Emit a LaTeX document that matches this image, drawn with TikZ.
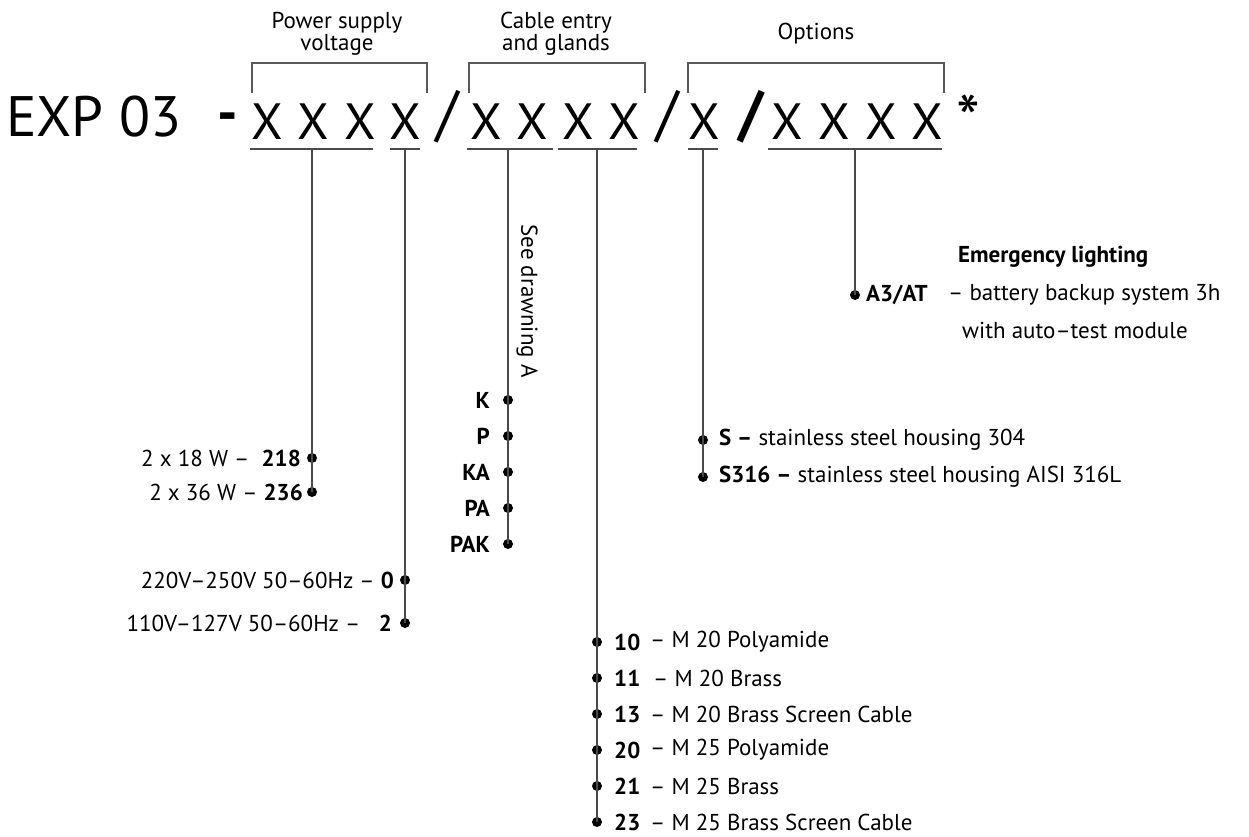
\documentclass[tikz,border=0pt]{standalone}
\usepackage{fontspec}
\setmainfont{PT Sans}
\newcommand\fsz[1]{\fontsize{#1}{#1}\selectfont}
\definecolor{lc}{HTML}{4A4A4A}
\definecolor{bc}{HTML}{5A5A5A}
\begin{document}
\begin{tikzpicture}[x=1pt,y=-1pt,
  txt/.style={inner sep=0pt, font=\fsz{23}},
  hdr/.style={inner sep=0pt, font=\fontsize{23}{20.5}\selectfont, align=center},
  codex/.style={inner sep=0pt, font=\fsz{51}, anchor=base},
  slashc/.style={inner sep=0pt, font=\fsz{62}},
  dotc/.style={circle, fill=black, inner sep=0pt, minimum size=10pt},
  ln/.style={draw=lc, line width=1.5pt},
  brk/.style={draw=bc, line width=1.4pt},
  ]
\useasboundingbox (0,0) rectangle (1249,837);
% title code
\node[inner sep=0pt, font=\fsz{57}, anchor=base west] (exp) at (6,137) {EXP 03};
\node[inner sep=0pt, font=\fsz{57}\bfseries, anchor=north] (dash) at (228,113) {-};
\foreach \n/\x in {a1/267,a2/313,a3/360,a4/405,b1/486,b2/532,b3/578,b4/624,c1/704,e1/787,e2/834,e3/881,e4/927}
  \node[codex] (\n) at (\x,140) {X};
\node[slashc] (s1) at (447,117) {/};
\node[slashc] (s2) at (667,117) {/};
\node[slashc, font=\fsz{62}\bfseries] (s3) at (751,117) {/};
\node[inner sep=0pt, font=\fsz{68}, anchor=north] (ast) at (968,95) {*};
% headers
\node[hdr] (h1) at (337,34) {Power supply\\voltage};
\node[hdr] (h2) at (556,34) {Cable entry\\and glands};
\node[hdr, anchor=base] (h3) at (816,40) {Options};
% brackets
\draw[brk] (252,93) -- (252,63) -- (427,63) -- (427,93);
\draw[brk] (469,93) -- (469,63) -- (645,63) -- (645,93);
\draw[brk] (688,93) -- (688,63) -- (944,63) -- (944,93);
% underlines
\draw[ln] (250,149) -- (373,149);
\draw[ln] (390,149) -- (420,149);
\draw[ln] (467,149) -- (553,149);
\draw[ln] (558,149) -- (637,149);
\draw[ln] (688,149) -- (718,149);
\draw[ln] (768,149) -- (942,149);
\coordinate (u1) at (312,149);
\coordinate (u2) at (405,149);
\coordinate (u3) at (508,149);
\coordinate (u4) at (597,149);
\coordinate (u5) at (703,149);
\coordinate (u6) at (855,149);
% power options
\node[dotc] (d218) at (312,458) {};
\node[dotc] (d236) at (312,492) {};
\node[txt, anchor=east] (t218) at (301,458) {2 x 18 W –\ \ \textbf{218}};
\node[txt, anchor=east] (t236) at (303,492) {2 x 36 W – \textbf{236}};
\draw[ln] (u1) -- (d236.center);
\node[dotc] (d0) at (405,580) {};
\node[dotc] (d2) at (405,623) {};
\node[txt, anchor=east] (t0) at (394,580) {220V–250V 50–60Hz – \textbf{0}};
\node[txt, anchor=east] (t2) at (392,623) {110V–127V 50–60Hz –\ \ \ \textbf{2}};
\draw[ln] (u2) -- (d2.center);
% cable entry
\foreach \n/\y/\t in {dK/400/K,dP/436/P,dKA/472/KA,dPA/508/PA,dPAK/544/PAK}{
  \node[dotc] (\n) at (508,\y) {};
  \node[txt, anchor=east, font=\fsz{23}\bfseries] at (490,\y) {\t};
}
\node[txt, rotate=-90] (see) at (527,301) {See drawning A};
\draw[ln] (u3) -- (dPAK.center);
% glands
\foreach \n/\y/\num/\d/\xx in {g10/642/10/– M 20 Polyamide/650, g11/678/11/– M 20 Brass/653, g13/714/13/– M 20 Brass Screen Cable/650, g20/750/20/– M 25 Polyamide/650, g21/786/21/– M 25 Brass/650, g23/822/23/– M 25 Brass Screen Cable/650}{
  \node[dotc] (\n) at (597,\y) {};
  \node[txt, anchor=west, font=\fsz{23}\bfseries] at (614,\y) {\num};
  \node[txt, anchor=west] at (\xx,\y) {\d};
}
\draw[ln] (u4) -- (g23.center);
% housing
\node[dotc] (dS) at (703,440) {};
\node[dotc] (dS316) at (703,477) {};
\node[txt, anchor=west] (tS) at (719,440) {\textbf{S –} stainless steel housing 304};
\node[txt, anchor=west] (tS316) at (719,477) {\textbf{S316 –} stainless steel housing AISI 316L};
\draw[ln] (u5) -- (dS316.center);
% emergency
\node[dotc] (dA3) at (855,295) {};
\node[txt, anchor=west, font=\fsz{23}\bfseries] (em) at (958,257) {Emergency lighting};
\node[txt, anchor=west, font=\fsz{23}\bfseries] (tA3) at (866,295) {A3/AT};
\node[txt, anchor=west] (tA3d) at (948,295) {– battery backup system 3h};
\node[txt, anchor=west] (tA3e) at (962,330) {with auto–test module};
\draw[ln] (u6) -- (dA3.center);
\end{tikzpicture}
\end{document}
